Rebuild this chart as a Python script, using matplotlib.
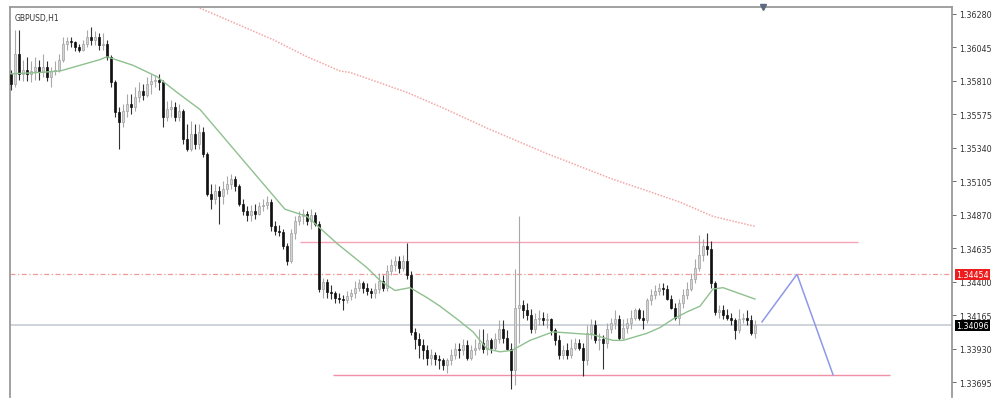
import matplotlib.pyplot as plt
import matplotlib.transforms as mtransforms

# GBPUSD H1 candles (prices)
first_open = 1.3586
closes = [1.3579, 1.3600, 1.3586, 1.3589, 1.3586, 1.3588, 1.3591, 1.3587, 1.3591, 1.3584,
          1.3588, 1.3589, 1.3596, 1.3607, 1.3609, 1.3608, 1.3605, 1.3603, 1.3607, 1.3612,
          1.3610, 1.3612, 1.3606, 1.3607, 1.3598, 1.3580, 1.3559, 1.3552, 1.3560, 1.3565,
          1.3563, 1.3570, 1.3574, 1.3571, 1.3579, 1.3581, 1.3582, 1.3580, 1.3556, 1.3561,
          1.3563, 1.3556, 1.3560, 1.3540, 1.3533, 1.3544, 1.3537, 1.3545, 1.3530, 1.3502,
          1.3498, 1.3504, 1.3500, 1.3505, 1.3509, 1.3512, 1.3507, 1.3495, 1.3490, 1.3487,
          1.3490, 1.3488, 1.3493, 1.3494, 1.3496, 1.3479, 1.3476, 1.3475, 1.3465, 1.3455,
          1.3474, 1.3483, 1.3486, 1.3488, 1.3483, 1.3487, 1.3481, 1.3435, 1.3440, 1.3433,
          1.3432, 1.3429, 1.3428, 1.3427, 1.3430, 1.3432, 1.3436, 1.3439, 1.3436, 1.3434,
          1.3432, 1.3435, 1.3441, 1.3436, 1.3448, 1.3452, 1.3455, 1.3450, 1.3455, 1.3445,
          1.3405, 1.3400, 1.3396, 1.3392, 1.3387, 1.3389, 1.3386, 1.3385, 1.3382, 1.3385,
          1.3389, 1.3393, 1.3392, 1.3396, 1.3387, 1.3392, 1.3394, 1.3397, 1.3393, 1.3399,
          1.3394, 1.3400, 1.3407, 1.3401, 1.3393, 1.3378, 1.3422, 1.3424, 1.3420, 1.3417,
          1.3407, 1.3414, 1.3415, 1.3413, 1.3414, 1.3406, 1.3399, 1.3389, 1.3392, 1.3389,
          1.3394, 1.3397, 1.3394, 1.3385, 1.3404, 1.3410, 1.3399, 1.3400, 1.3397, 1.3407,
          1.3411, 1.3414, 1.3401, 1.3408, 1.3411, 1.3415, 1.3420, 1.3415, 1.3413, 1.3427,
          1.3431, 1.3434, 1.3436, 1.3435, 1.3428, 1.3422, 1.3415, 1.3425, 1.3431, 1.3435,
          1.3442, 1.3450, 1.3459, 1.3465, 1.3463, 1.3439, 1.3419, 1.3420, 1.3417, 1.3415,
          1.3413, 1.3406, 1.3414, 1.3415, 1.3413, 1.3404, 1.3410]
highs = [1.3589, 1.3617, 1.3617, 1.3596, 1.3598, 1.3595, 1.3598, 1.3596, 1.3600, 1.3595,
         1.3591, 1.3595, 1.3600, 1.3612, 1.3612, 1.3612, 1.3609, 1.3607, 1.3610, 1.3617,
         1.3619, 1.3616, 1.3615, 1.3615, 1.3610, 1.3599, 1.3582, 1.3563, 1.3565, 1.3572,
         1.3572, 1.3577, 1.3580, 1.3579, 1.3584, 1.3586, 1.3585, 1.3586, 1.3582, 1.3567,
         1.3568, 1.3566, 1.3565, 1.3561, 1.3551, 1.3553, 1.3551, 1.3551, 1.3549, 1.3531,
         1.3509, 1.3509, 1.3507, 1.3511, 1.3514, 1.3516, 1.3514, 1.3509, 1.3498, 1.3493,
         1.3494, 1.3495, 1.3496, 1.3498, 1.3500, 1.3498, 1.3483, 1.3480, 1.3477, 1.3467,
         1.3477, 1.3486, 1.3490, 1.3491, 1.3490, 1.3491, 1.3489, 1.3483, 1.3443, 1.3442,
         1.3438, 1.3434, 1.3432, 1.3431, 1.3434, 1.3435, 1.3441, 1.3442, 1.3441, 1.3439,
         1.3436, 1.3439, 1.3446, 1.3445, 1.3452, 1.3456, 1.3458, 1.3458, 1.3459, 1.3467,
         1.3448, 1.3408, 1.3404, 1.3400, 1.3396, 1.3393, 1.3391, 1.3389, 1.3387, 1.3387,
         1.3393, 1.3397, 1.3397, 1.3400, 1.3399, 1.3396, 1.3400, 1.3407, 1.3407, 1.3404,
         1.3401, 1.3404, 1.3413, 1.3413, 1.3406, 1.3397, 1.3449, 1.3486, 1.3427, 1.3425,
         1.3421, 1.3418, 1.3420, 1.3419, 1.3418, 1.3415, 1.3408, 1.3403, 1.3396, 1.3397,
         1.3400, 1.3401, 1.3400, 1.3397, 1.3410, 1.3414, 1.3413, 1.3404, 1.3403, 1.3411,
         1.3415, 1.3420, 1.3417, 1.3414, 1.3415, 1.3420, 1.3422, 1.3422, 1.3420, 1.3429,
         1.3435, 1.3438, 1.3439, 1.3439, 1.3438, 1.3431, 1.3425, 1.3428, 1.3435, 1.3440,
         1.3446, 1.3456, 1.3473, 1.3470, 1.3474, 1.3469, 1.3441, 1.3424, 1.3424, 1.3421,
         1.3418, 1.3415, 1.3421, 1.3418, 1.3420, 1.3417, 1.3413]
lows = [1.3575, 1.3577, 1.3582, 1.3581, 1.3581, 1.3580, 1.3582, 1.3582, 1.3584, 1.3581,
        1.3577, 1.3585, 1.3587, 1.3594, 1.3603, 1.3605, 1.3602, 1.3601, 1.3602, 1.3605,
        1.3606, 1.3606, 1.3603, 1.3603, 1.3596, 1.3577, 1.3556, 1.3533, 1.3549, 1.3556,
        1.3558, 1.3560, 1.3566, 1.3568, 1.3570, 1.3572, 1.3577, 1.3575, 1.3549, 1.3553,
        1.3556, 1.3553, 1.3553, 1.3537, 1.3532, 1.3532, 1.3533, 1.3533, 1.3528, 1.3500,
        1.3491, 1.3495, 1.3481, 1.3495, 1.3502, 1.3505, 1.3504, 1.3493, 1.3487, 1.3483,
        1.3483, 1.3484, 1.3487, 1.3490, 1.3491, 1.3476, 1.3473, 1.3472, 1.3463, 1.3452,
        1.3453, 1.3470, 1.3480, 1.3481, 1.3480, 1.3477, 1.3479, 1.3433, 1.3429, 1.3429,
        1.3428, 1.3425, 1.3425, 1.3420, 1.3425, 1.3427, 1.3429, 1.3434, 1.3432, 1.3431,
        1.3429, 1.3429, 1.3432, 1.3434, 1.3434, 1.3445, 1.3448, 1.3446, 1.3448, 1.3442,
        1.3403, 1.3393, 1.3387, 1.3386, 1.3382, 1.3382, 1.3382, 1.3379, 1.3378, 1.3376,
        1.3382, 1.3386, 1.3387, 1.3389, 1.3385, 1.3385, 1.3389, 1.3392, 1.3390, 1.3389,
        1.3390, 1.3392, 1.3397, 1.3397, 1.3392, 1.3365, 1.3368, 1.3397, 1.3415, 1.3413,
        1.3404, 1.3404, 1.3410, 1.3410, 1.3408, 1.3403, 1.3396, 1.3386, 1.3386, 1.3386,
        1.3387, 1.3392, 1.3392, 1.3374, 1.3382, 1.3400, 1.3397, 1.3392, 1.3379, 1.3394,
        1.3404, 1.3407, 1.3399, 1.3400, 1.3404, 1.3407, 1.3413, 1.3413, 1.3407, 1.3411,
        1.3424, 1.3428, 1.3431, 1.3431, 1.3427, 1.3421, 1.3413, 1.3410, 1.3422, 1.3428,
        1.3434, 1.3439, 1.3448, 1.3455, 1.3459, 1.3436, 1.3417, 1.3415, 1.3414, 1.3413,
        1.3410, 1.3400, 1.3404, 1.3411, 1.3410, 1.3403, 1.3401]

# moving averages, read at a few bar positions
ma_fast_x = [0, 7.25, 12.25, 17.25, 22.25, 24, 30.5, 36.5, 41.5, 47.25, 51.5, 57.25, 68.5,
             74, 81.5, 89, 92.25, 96, 99.75, 104, 107.25, 111.5, 115.5, 119, 122.25, 125.25,
             129.75, 135.5, 140.5, 145.5, 150.5, 153, 159, 162.25, 165.5, 169, 172.25,
             175.5, 178, 186]
ma_fast_y = [1.3586, 1.3587, 1.3588, 1.3592, 1.3596, 1.3598, 1.3592, 1.3584, 1.3573, 1.3561,
             1.3547, 1.3528, 1.3491, 1.3486, 1.3467, 1.3450, 1.3441, 1.3434, 1.3436, 1.3429,
             1.3423, 1.3414, 1.3405, 1.3393, 1.3391, 1.3392, 1.3399, 1.3405, 1.3404, 1.3403,
             1.3399, 1.3399, 1.3404, 1.3408, 1.3414, 1.3419, 1.3423, 1.3435, 1.3436, 1.3428]
ma_slow_x = [46.5, 57.25, 65.5, 74, 82.25, 84.75, 99, 107.25, 119.75, 134, 142.25, 150.5,
             159, 167.25, 175.5, 186]
ma_slow_y = [1.3633, 1.3620, 1.3610, 1.3598, 1.3588, 1.3587, 1.3573, 1.3563, 1.3547, 1.3530,
             1.3521, 1.3512, 1.3504, 1.3496, 1.3486, 1.3479]

# drawn objects
resistance = 1.3468
resistance_x = [72.25, 211.75]
support = 1.3375
support_x = [80.5, 219.75]
alert_level = 1.34454
last_price = 1.34096
path_x = [187.75, 196.5, 205.5]
path_y = [1.3412, 1.34454, 1.3375]
price_ticks = [1.36280, 1.36045, 1.35810, 1.35575, 1.35340, 1.35105,
               1.34870, 1.34635, 1.34400, 1.34165, 1.33930, 1.33695]

opens = [first_open] + closes[:-1]

fig = plt.figure(figsize=(10, 4.1), dpi=100)
ax = fig.add_axes([0.010, 0.0293, 0.942, 0.9512])

idx = list(range(len(closes)))
for i in idx:
    o, c, h, l = opens[i], closes[i], highs[i], lows[i]
    bear = c < o
    wick_col = '#333333' if bear else '#a8a8a8'
    ax.vlines(i, l, h, color=wick_col, lw=0.8, zorder=3)
    body = max(abs(c - o), 0.00003)
    ax.bar(i, body, bottom=min(o, c), width=0.7,
           color='#111111' if bear else '#d4d4d4',
           edgecolor='#111111' if bear else '#a0a0a0', lw=0.5, zorder=4)

ax.plot(ma_fast_x, ma_fast_y, color='#8fc08f', lw=1.0, zorder=5)
ax.plot(ma_slow_x, ma_slow_y, color='#f4a6a6', lw=1.1, ls=(0, (1, 1)), zorder=2)

ax.hlines(resistance, *resistance_x, color='#f5a3b5', lw=1.0, zorder=2)
ax.hlines(support, *support_x, color='#f08fa5', lw=1.0, zorder=2)
ax.axhline(alert_level, color='#f29a9a', lw=0.9, ls=(0, (4, 2, 1, 2)), zorder=1)
ax.axhline(last_price, color='#c6ccd4', lw=1.2, zorder=1)
ax.plot(path_x, path_y, color='#8f98e8', lw=1.1, zorder=6)

# shift marker at the top
ax.plot([188], [1.36329], marker='v', color='#5a6a80', ms=5, clip_on=False, zorder=7)

ax.set_xlim(-0.25, 235.25)
ax.set_ylim(1.33593, 1.36329)

ax.yaxis.tick_right()
ax.set_yticks(price_ticks)
ax.set_yticklabels([f'{t:.5f}' for t in price_ticks])
ax.tick_params(axis='y', labelsize=5.8, length=3, width=0.6, colors='#555555',
               labelcolor='#333333', pad=2)
ax.set_xticks([])
for side in ['left', 'right', 'top']:
    ax.spines[side].set_color('#9a9a9a')
    ax.spines[side].set_linewidth(1.3)
ax.spines['bottom'].set_visible(False)

trans = mtransforms.blended_transform_factory(ax.transAxes, ax.transData)
ax.text(1.004, alert_level, f'{alert_level:.5f}', transform=trans, fontsize=5.8,
        color='white', va='center', ha='left',
        bbox=dict(boxstyle='square,pad=0.15', fc='#ee1c1c', ec='none'))
ax.text(1.004, last_price, f'{last_price:.5f}', transform=trans, fontsize=5.8,
        color='white', va='center', ha='left',
        bbox=dict(boxstyle='square,pad=0.15', fc='#000000', ec='none'))

ax.text(0.005, 0.985, 'GBPUSD,H1', transform=ax.transAxes, fontsize=5.5,
        color='#333333', va='top', ha='left')

fig.savefig('out.png', dpi=100, facecolor='white')
